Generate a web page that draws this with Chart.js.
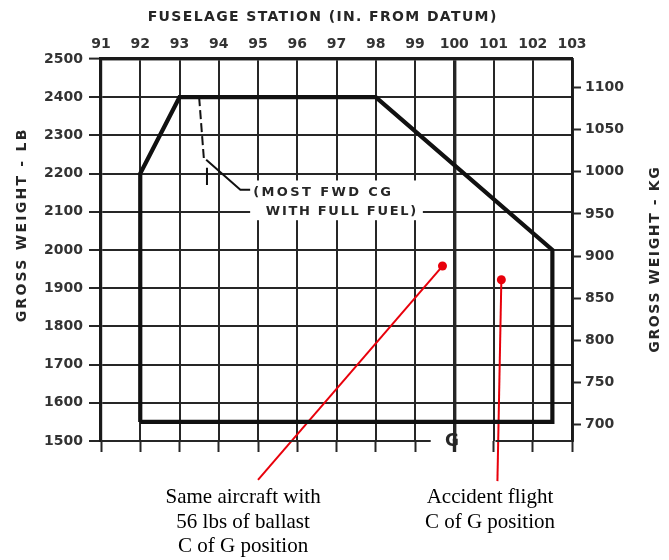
<!DOCTYPE html>
<html>
<head>
<meta charset="utf-8">
<script src="https://cdn.jsdelivr.net/npm/chart.js@4.4.0/dist/chart.umd.min.js"></script>
<style>
  html, body { margin: 0; padding: 0; background: #fff; }
  #wrap { width: 669px; height: 560px; position: relative; }
</style>
</head>
<body>
<div id="wrap"><canvas id="chart"></canvas></div>
<script>
const LB_PER_KG = 2.20462;

// axis ticks
const stationTicks = [91, 92, 93, 94, 95, 96, 97, 98, 99, 100, 101, 102, 103];
const weightTicksLb = [1500, 1600, 1700, 1800, 1900, 2000, 2100, 2200, 2300, 2400, 2500];
const weightTicksKg = [700, 750, 800, 850, 900, 950, 1000, 1050, 1100];

// CG envelope (station in., gross weight lb)
const envelopeStation = [92, 92, 93, 98, 102.5, 102.5, 92];
const envelopeWeight = [1550, 2200, 2400, 2400, 2000, 1550, 1550];

// most forward CG with full fuel (dashed) and its note leader
const fwdCgStation = [93.5, 93.62];
const fwdCgWeight = [2400, 2240];
const fwdCgStubStation = [93.7, 93.7];
const fwdCgStubWeight = [2215, 2170];
const fwdLeaderStation = [93.68, 94.55, 94.8];
const fwdLeaderWeight = [2236, 2158, 2158];

// bottom line at 1500 lb, broken around the datum symbol
const baseStation = [91, 99.4, 100, 101.05, 103];
const baseWeight = [1500, 1500, null, 1500, 1500];

// plotted C of G positions and their callout lines
const ballastStation = [99.7];
const ballastWeight = [1958];
const accidentStation = [101.2];
const accidentWeight = [1922];
const ballastLeaderStation = [99.7, 95.0];
const ballastLeaderWeight = [1958, 1398];
const accidentLeaderStation = [101.2, 101.1];
const accidentLeaderWeight = [1922, 1395];

const toPoints = (xs, ys) => xs.map((x, i) => ({ x: x, y: ys[i] }));

const INK = "#262626";
const RED = "#e8000b";
const tickFont = { family: "DejaVu Sans", size: 14, weight: "bold" };
const plain = (v) => String(v);

function spacedText(ctx, text, x, y, width) {
  ctx.letterSpacing = "0px";
  const w = ctx.measureText(text).width;
  const gap = (width - w) / text.length;
  ctx.letterSpacing = gap + "px";
  ctx.textAlign = "left";
  ctx.fillText(text, x - width / 2 + gap / 2, y);
  ctx.letterSpacing = "0px";
}

const paperText = {
  id: "paperText",
  beforeDatasetsDraw(chart) {
    const { ctx } = chart;
    const x = chart.scales.x, y = chart.scales.y;
    // white patch behind the forward CG note
    ctx.save();
    ctx.fillStyle = "#fff";
    const l = x.getPixelForValue(94.8), r = x.getPixelForValue(99.2);
    const t = y.getPixelForValue(2182), b = y.getPixelForValue(2078);
    ctx.fillRect(l, t, r - l, b - t);
    ctx.restore();
  },
  afterDatasetsDraw(chart) {
    const { ctx } = chart;
    const x = chart.scales.x, y = chart.scales.y;
    ctx.save();
    ctx.fillStyle = INK;
    ctx.textBaseline = "middle";

    // axis titles
    ctx.font = "bold 14px 'DejaVu Sans'";
    spacedText(ctx, "FUSELAGE STATION (IN. FROM DATUM)", 322, 17, 350);

    ctx.save();
    ctx.translate(22, 226);
    ctx.rotate(-Math.PI / 2);
    spacedText(ctx, "GROSS WEIGHT - LB", 0, 0, 195);
    ctx.restore();

    ctx.save();
    ctx.translate(655, 260);
    ctx.rotate(-Math.PI / 2);
    spacedText(ctx, "GROSS WEIGHT - KG", 0, 0, 187);
    ctx.restore();

    // forward CG note
    ctx.font = "bold 13px 'DejaVu Sans'";
    spacedText(ctx, "(MOST FWD CG", (252 + 392) / 2, y.getPixelForValue(2150), 140);
    spacedText(ctx, "WITH FULL FUEL)", (265 + 417) / 2, y.getPixelForValue(2100), 152);

    // datum symbol
    ctx.font = "bold 17px 'DejaVu Sans'";
    ctx.textAlign = "center";
    ctx.fillText("G", x.getPixelForValue(99.94), y.getPixelForValue(1500) + 1);

    // callouts
    ctx.fillStyle = "#000";
    ctx.font = "21px 'Liberation Serif'";
    ctx.textBaseline = "alphabetic";
    const bx = x.getPixelForValue(94.62), ax = x.getPixelForValue(100.91);
    const top = y.getPixelForValue(1500) + 62;
    ["Same aircraft with", "56 lbs of ballast", "C of G position"].forEach((s, i) => {
      ctx.fillText(s, bx, top + i * 24.5);
    });
    ["Accident flight", "C of G position"].forEach((s, i) => {
      ctx.fillText(s, ax, top + i * 24.5);
    });
    ctx.restore();
  },
};

const lineSet = (data, opts) => Object.assign({
  data: data,
  showLine: true,
  pointRadius: 0,
  borderColor: "#111",
  borderWidth: 2,
  fill: false,
  tension: 0,
  spanGaps: false,
  xAxisID: "x",
  yAxisID: "y",
}, opts);

const chart = new Chart(document.getElementById("chart"), {
  type: "scatter",
  data: {
    datasets: [
      lineSet(toPoints(baseStation, baseWeight), { borderColor: INK, borderWidth: 2.2, clip: false }),
      lineSet(toPoints(envelopeStation, envelopeWeight), { borderWidth: 4.2, borderJoinStyle: "miter" }),
      lineSet(toPoints(fwdCgStation, fwdCgWeight), { borderWidth: 2, borderDash: [9, 4] }),
      lineSet(toPoints(fwdCgStubStation, fwdCgStubWeight), { borderWidth: 2 }),
      lineSet(toPoints(fwdLeaderStation, fwdLeaderWeight), { borderWidth: 2 }),
      lineSet(toPoints(ballastLeaderStation, ballastLeaderWeight), { borderColor: RED, borderWidth: 2, clip: false }),
      lineSet(toPoints(accidentLeaderStation, accidentLeaderWeight), { borderColor: RED, borderWidth: 2, clip: false }),
      {
        data: toPoints(ballastStation, ballastWeight).concat(toPoints(accidentStation, accidentWeight)),
        pointRadius: 4.5,
        pointBackgroundColor: RED,
        pointBorderWidth: 0,
        xAxisID: "x",
        yAxisID: "y",
      },
    ],
  },
  options: {
    responsive: true,
    maintainAspectRatio: false,
    animation: false,
    layout: { padding: { left: 0, right: 0, top: 0, bottom: 109 } },
    plugins: { legend: { display: false }, tooltip: { enabled: false } },
    scales: {
      x: {
        type: "linear",
        position: "top",
        min: 91,
        max: 103,
        afterBuildTicks: (s) => { s.ticks = stationTicks.map((v) => ({ value: v })); },
        afterFit: (s) => { s.height = 59; },
        ticks: { font: tickFont, color: "#333", padding: 6, callback: plain },
        grid: {
          drawTicks: false,
          color: INK,
          lineWidth: (c) => (c.tick && c.tick.value === 100 ? 3.4 : c.tick && c.tick.value === 103 ? 2.8 : 2),
        },
        border: { display: true, width: 3.2, color: "#1a1a1a" },
      },
      xBase: {
        type: "linear",
        position: "bottom",
        min: 91,
        max: 103,
        afterBuildTicks: (s) => { s.ticks = stationTicks.map((v) => ({ value: v })); },
        afterFit: (s) => { s.height = 10; },
        ticks: { display: false },
        grid: {
          drawOnChartArea: false,
          tickLength: 11,
          tickColor: INK,
          tickWidth: (c) => (c.tick && c.tick.value === 100 ? 3.4 : 2),
        },
        border: { display: false },
      },
      y: {
        type: "linear",
        position: "left",
        min: 1500,
        max: 2500,
        afterBuildTicks: (s) => { s.ticks = weightTicksLb.map((v) => ({ value: v })); },
        afterFit: (s) => { s.width = 101; },
        ticks: { font: tickFont, color: "#333", padding: 6, callback: plain },
        grid: {
          tickLength: 12,
          tickColor: INK,
          tickWidth: 2,
          color: (c) => (c.tick && c.tick.value === 1500 ? "rgba(0,0,0,0)" : INK),
          lineWidth: (c) => (c.tick && c.tick.value === 2500 ? 3.2 : 2),
        },
        border: { display: true, width: 3.2, color: "#1a1a1a" },
      },
      yKg: {
        type: "linear",
        position: "right",
        min: 1500 / LB_PER_KG,
        max: 2500 / LB_PER_KG,
        afterBuildTicks: (s) => { s.ticks = weightTicksKg.map((v) => ({ value: v })); },
        afterFit: (s) => { s.width = 97; },
        ticks: { font: tickFont, color: "#333", padding: 4, callback: plain },
        grid: { drawOnChartArea: false, tickLength: 9, tickColor: INK, tickWidth: 2 },
        border: { display: true, width: 2.8, color: "#1a1a1a" },
      },
    },
  },
  plugins: [paperText],
});
</script>
</body>
</html>
